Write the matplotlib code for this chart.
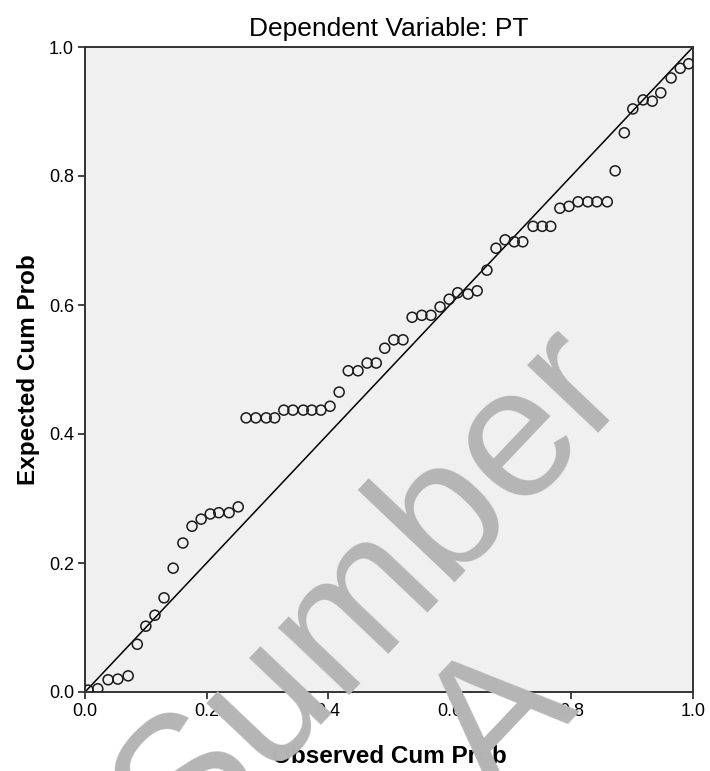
import matplotlib
matplotlib.use("Agg")
import matplotlib.pyplot as plt
from matplotlib import font_manager as fm

names = {f.name for f in fm.fontManager.ttflist}
FAM = "Liberation Sans Narrow" if "Liberation Sans Narrow" in names else "Liberation Sans"
plt.rcParams["font.family"] = [FAM, "DejaVu Sans"]

# Observed cumulative probability (x) and expected cumulative probability (y)
observed = [0.005, 0.021, 0.038, 0.054, 0.071, 0.086, 0.100, 0.115, 0.130, 0.145,
            0.161, 0.176, 0.191, 0.206, 0.220, 0.237, 0.252, 0.265, 0.281, 0.298,
            0.312, 0.327, 0.342, 0.359, 0.373, 0.388, 0.403, 0.418, 0.433, 0.449,
            0.464, 0.479, 0.493, 0.508, 0.523, 0.538, 0.554, 0.569, 0.584, 0.599,
            0.613, 0.630, 0.645, 0.661, 0.676, 0.691, 0.706, 0.720, 0.737, 0.752,
            0.766, 0.781, 0.796, 0.811, 0.827, 0.842, 0.859, 0.872, 0.887, 0.901,
            0.918, 0.933, 0.947, 0.964, 0.979, 0.993]
expected = [0.003, 0.005, 0.019, 0.020, 0.025, 0.074, 0.102, 0.119, 0.146, 0.192,
            0.231, 0.257, 0.268, 0.276, 0.278, 0.278, 0.287, 0.425, 0.425, 0.425,
            0.425, 0.437, 0.437, 0.437, 0.437, 0.437, 0.443, 0.465, 0.498, 0.498,
            0.510, 0.510, 0.533, 0.546, 0.546, 0.581, 0.584, 0.584, 0.597, 0.609,
            0.619, 0.617, 0.622, 0.654, 0.688, 0.701, 0.698, 0.698, 0.722, 0.722,
            0.722, 0.750, 0.753, 0.760, 0.760, 0.760, 0.760, 0.808, 0.867, 0.904,
            0.918, 0.916, 0.929, 0.952, 0.967, 0.974]
ticks = [0.0, 0.2, 0.4, 0.6, 0.8, 1.0]
tick_labels = ["0.0", "0.2", "0.4", "0.6", "0.8", "1.0"]

W, H = 710, 771
fig = plt.figure(figsize=(W / 100, H / 100), dpi=100)
fig.patch.set_facecolor("white")
ax = fig.add_axes([85 / W, 1 - 692 / H, (693 - 85) / W, (692 - 47) / H])
ax.set_facecolor("#f0f0f0")

ax.plot([0, 1], [0, 1], color="black", lw=1.1, zorder=2)
ax.scatter(observed, expected, s=52, facecolors="none", edgecolors="#1a1a1a",
           linewidths=1.1, zorder=3)

ax.set_xlim(0, 1)
ax.set_ylim(0, 1)
ax.set_xticks(ticks)
ax.set_yticks(ticks)
ax.set_xticklabels(tick_labels)
ax.set_yticklabels(tick_labels)
ax.tick_params(direction="out", length=5, width=1.2, color="#222222",
               labelsize=13, pad=3)
for s in ax.spines.values():
    s.set_color("#333333")
    s.set_linewidth(1.4)

ax.set_title("Dependent Variable: PT", fontsize=19, pad=8)
ax.set_xlabel("Observed Cum Prob", fontsize=17.5, fontweight="bold", labelpad=18)
ax.set_ylabel("Expected Cum Prob", fontsize=17.5, fontweight="bold", labelpad=6)

# watermark
fig.text(182 / W, 1 - 863 / H, "Sumber", fontsize=134, color="#b5b5b5",
         rotation=46.5, rotation_mode="anchor", ha="left", va="baseline",
         family=["Liberation Sans", "DejaVu Sans"], zorder=10)
fig.text(495 / W, 1 - 801 / H, "A", fontsize=134, color="#b5b5b5",
         rotation=46.5, rotation_mode="anchor", ha="left", va="baseline",
         family=["Liberation Sans", "DejaVu Sans"], zorder=10)

fig.savefig("out.png", dpi=100)
